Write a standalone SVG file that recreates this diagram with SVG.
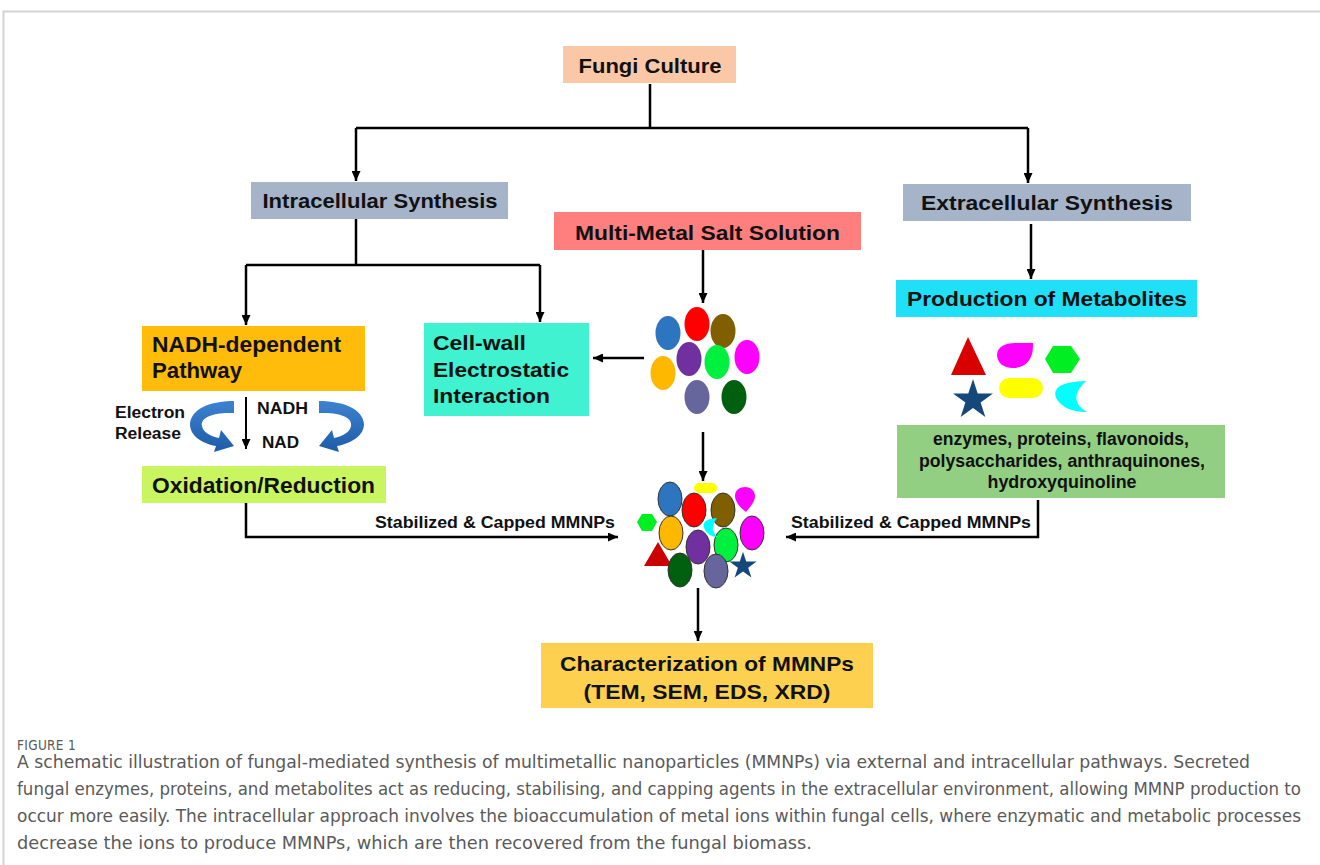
<svg xmlns="http://www.w3.org/2000/svg" width="1320" height="865" viewBox="0 0 1320 865">
<style>
.lbl{font-family:"Liberation Sans",Arial,sans-serif;font-weight:bold;fill:#111;}
.cap{font-family:"Liberation Sans Narrow","DejaVu Sans Condensed","Liberation Sans",Arial,sans-serif;fill:#5a5a5a;}
.ln{fill:none;stroke:#000;stroke-width:2.5;}
.ar{marker-end:url(#ah);}
.ol{stroke:#333;stroke-width:1;}
</style>
<defs>
<marker id="ah" markerUnits="userSpaceOnUse" markerWidth="10" markerHeight="9" refX="10" refY="4.5" orient="auto">
<path d="M0,0 L10,4.5 L0,9 z" fill="#000"/>
</marker>
<path id="star" d="M0,-21 L4.7,-6.47 L19.97,-6.49 L7.61,2.47 L12.34,16.99 L0,8 L-12.34,16.99 L-7.61,2.47 L-19.97,-6.49 L-4.7,-6.47 Z"/>
<linearGradient id="bl" x1="0" y1="0" x2="0" y2="1">
<stop offset="0" stop-color="#3d82d0"/>
<stop offset="1" stop-color="#1d5ca8"/>
</linearGradient>
</defs>

<!-- frame -->
<path d="M3.5,865 V11.5 H1320" fill="none" stroke="#d4d4d4" stroke-width="2"/>

<g id="connectors">
<path class="ln" d="M650,84 V128 M356,128 H1028"/>
<path class="ln ar" d="M356,128 V181"/>
<path class="ln ar" d="M1028,128 V183"/>
<path class="ln" d="M356,219 V265 M246,265 H540"/>
<path class="ln ar" d="M246,265 V325"/>
<path class="ln ar" d="M540,265 V322"/>
<path class="ln ar" d="M703,250 V303"/>
<path class="ln ar" d="M644,358 H593"/>
<path class="ln ar" d="M1031,224 V279"/>
<path class="ln ar" d="M246,397 V449" style="stroke-width:2"/>
<path class="ln ar" d="M703,432 V481"/>
<path class="ln ar" d="M246,503 V537 H618"/>
<path class="ln ar" d="M1038,500 V537 H786"/>
<path class="ln ar" d="M698,588 V641"/>
<text class="lbl" x="375" y="528" font-size="16.5" textLength="240" lengthAdjust="spacingAndGlyphs">Stabilized &amp; Capped MMNPs</text>
<text class="lbl" x="791" y="528" font-size="16.5" textLength="240" lengthAdjust="spacingAndGlyphs">Stabilized &amp; Capped MMNPs</text>
</g>

<g id="fungi-culture">
<rect x="563" y="46" width="173" height="37" fill="#fbc8a7"/>
<text class="lbl" x="650" y="73" font-size="21" text-anchor="middle" textLength="143" lengthAdjust="spacingAndGlyphs">Fungi Culture</text>
</g>

<g id="intracellular">
<rect x="251" y="182" width="257" height="37" fill="#a5b4c8"/>
<text class="lbl" x="380" y="208" font-size="21" text-anchor="middle" textLength="235" lengthAdjust="spacingAndGlyphs">Intracellular Synthesis</text>
</g>

<g id="multi-metal">
<rect x="554" y="212" width="307" height="38" fill="#ff7f7f"/>
<text class="lbl" x="707.5" y="240" font-size="21" text-anchor="middle" textLength="265" lengthAdjust="spacingAndGlyphs">Multi-Metal Salt Solution</text>
</g>

<g id="extracellular">
<rect x="903" y="184" width="288" height="37" fill="#a5b4c8"/>
<text class="lbl" x="1047" y="210" font-size="21" text-anchor="middle" textLength="252" lengthAdjust="spacingAndGlyphs">Extracellular Synthesis</text>
</g>

<g id="production">
<rect x="896" y="280" width="301" height="37" fill="#20e0f8"/>
<text class="lbl" x="1047" y="306" font-size="21" text-anchor="middle" textLength="280" lengthAdjust="spacingAndGlyphs">Production of Metabolites</text>
</g>

<g id="nadh-pathway">
<rect x="142" y="326" width="223" height="65" fill="#ffbc0a"/>
<text class="lbl" x="152" y="352" font-size="22" textLength="189" lengthAdjust="spacingAndGlyphs">NADH-dependent</text>
<text class="lbl" x="152" y="378" font-size="22" textLength="90" lengthAdjust="spacingAndGlyphs">Pathway</text>
</g>

<g id="electron-release">
<text class="lbl" x="115" y="418" font-size="16" textLength="70" lengthAdjust="spacingAndGlyphs">Electron</text>
<text class="lbl" x="115" y="439" font-size="16" textLength="66" lengthAdjust="spacingAndGlyphs">Release</text>
<text class="lbl" x="257" y="414" font-size="16" textLength="51" lengthAdjust="spacingAndGlyphs">NADH</text>
<text class="lbl" x="262" y="448" font-size="16" textLength="37" lengthAdjust="spacingAndGlyphs">NAD</text>
<g id="curl-left" fill="url(#bl)">
<path d="M234,401 L234,413 C212,412 200,418 202,426 C203,432 210,436 219,438 L221,430 L234,446 L214,452 L216,446 C200,443 190,435 190,424 C191,410 208,401 234,401 Z"/>
</g>
<g id="curl-right" fill="url(#bl)" transform="translate(553,0) scale(-1,1)">
<path d="M234,401 L234,413 C212,412 200,418 202,426 C203,432 210,436 219,438 L221,430 L234,446 L214,452 L216,446 C200,443 189,435 189,424 C190,410 208,401 234,401 Z"/>
</g>
</g>

<g id="oxidation">
<rect x="142" y="466" width="244" height="37" fill="#c8f560"/>
<text class="lbl" x="152" y="493" font-size="22" textLength="223" lengthAdjust="spacingAndGlyphs">Oxidation/Reduction</text>
</g>

<g id="cell-wall">
<rect x="424" y="323" width="165" height="93" fill="#40f2cf"/>
<text class="lbl" x="433" y="350" font-size="21" textLength="93" lengthAdjust="spacingAndGlyphs">Cell-wall</text>
<text class="lbl" x="433" y="377" font-size="21" textLength="136" lengthAdjust="spacingAndGlyphs">Electrostatic</text>
<text class="lbl" x="433" y="403" font-size="21" textLength="117" lengthAdjust="spacingAndGlyphs">Interaction</text>
</g>

<g id="metal-ions">
<ellipse cx="668" cy="333" rx="12.5" ry="17" fill="#2e75c0"/>
<ellipse cx="697" cy="324" rx="12.5" ry="17" fill="#ff0000"/>
<ellipse cx="723" cy="331" rx="12.5" ry="17" fill="#7f5f00"/>
<ellipse cx="689" cy="359" rx="12.5" ry="17" fill="#7030a0"/>
<ellipse cx="717" cy="362" rx="12.5" ry="17" fill="#00f040"/>
<ellipse cx="747" cy="357" rx="12.5" ry="17" fill="#ff00ff"/>
<ellipse cx="663" cy="373" rx="12.5" ry="17" fill="#ffb800"/>
<ellipse cx="697" cy="397" rx="12.5" ry="17" fill="#66669c"/>
<ellipse cx="734" cy="397" rx="12.5" ry="17" fill="#006010"/>
</g>

<g id="metabolite-shapes">
<polygon points="968,337 951,375 986,375" fill="#d90000"/>
<path d="M1033,343 C1034,360 1025,368 1013,368 C1003,368 997,362 997,355 C997,347 1005,343 1015,343 Z" fill="#ff00ff"/>
<polygon points="1045,359 1053,346 1071,346 1080,359 1071,373 1053,373" fill="#00ee22"/>
<use href="#star" transform="translate(973,400)" fill="#15487a"/>
<rect x="999" y="378" width="44" height="20" rx="10" fill="#ffff00"/>
<path d="M1086,381 Q1050,382 1056,398 Q1064,412 1087,412 Q1066,400 1086,381 Z" fill="#00ffff"/>
</g>

<g id="metabolites-list">
<rect x="897" y="425" width="328" height="73" fill="#93cf82"/>
<text class="lbl" x="1061" y="445" font-size="18" text-anchor="middle" textLength="256" lengthAdjust="spacingAndGlyphs">enzymes, proteins, flavonoids,</text>
<text class="lbl" x="1062" y="467" font-size="18" text-anchor="middle" textLength="286" lengthAdjust="spacingAndGlyphs">polysaccharides, anthraquinones,</text>
<text class="lbl" x="1062" y="488" font-size="18" text-anchor="middle" textLength="149" lengthAdjust="spacingAndGlyphs">hydroxyquinoline</text>
</g>

<g id="capped-mmnps">
<rect x="694" y="483" width="23" height="10" rx="5" fill="#ffff00"/>
<ellipse class="ol" cx="670" cy="499" rx="12" ry="17" fill="#2e75c0"/>
<ellipse class="ol" cx="694" cy="510" rx="12" ry="17" fill="#ff0000"/>
<ellipse class="ol" cx="723" cy="510" rx="12" ry="17" fill="#7f5f00"/>
<path d="M746,512 C738,506 735,500 735,496 C735,490 740,487 745,487 C751,487 755,491 755,496 C755,502 750,507 746,512 Z" fill="#ff00ff"/>
<polygon points="637,522 642,514 652,514 657,522 652,531 642,531" fill="#00ee22"/>
<ellipse class="ol" cx="671" cy="533" rx="12" ry="17" fill="#ffb800"/>
<ellipse class="ol" cx="752" cy="533" rx="12" ry="17" fill="#ff00ff"/>
<ellipse class="ol" cx="698" cy="547" rx="12" ry="17" fill="#7030a0"/>
<ellipse class="ol" cx="726" cy="545" rx="12" ry="17" fill="#00f040"/>
<path d="M717,518 Q701,519 704,528 Q708,537 718,537 Q708,530 717,518 Z" fill="#00ffff"/>
<polygon points="658,542 644,566 672,566" fill="#cc0000"/>
<ellipse class="ol" cx="680" cy="570" rx="12" ry="17" fill="#006010"/>
<ellipse class="ol" cx="716" cy="571" rx="12" ry="17" fill="#66669c"/>
<use href="#star" transform="translate(743,566) scale(0.68)" fill="#15487a"/>
</g>

<g id="characterization">
<rect x="541" y="643" width="332" height="65" fill="#fdd14f"/>
<text class="lbl" x="707" y="671" font-size="21" text-anchor="middle" textLength="294" lengthAdjust="spacingAndGlyphs">Characterization of MMNPs</text>
<text class="lbl" x="707" y="699" font-size="21" text-anchor="middle" textLength="247" lengthAdjust="spacingAndGlyphs">(TEM, SEM, EDS, XRD)</text>
</g>

<g id="caption">
<text class="cap" x="17" y="750" font-size="13.5" letter-spacing="0.3">FIGURE 1</text>
<text class="cap" x="17" y="768" font-size="17" textLength="1233" lengthAdjust="spacingAndGlyphs">A schematic illustration of fungal-mediated synthesis of multimetallic nanoparticles (MMNPs) via external and intracellular pathways. Secreted</text>
<text class="cap" x="17" y="795" font-size="17" textLength="1284" lengthAdjust="spacingAndGlyphs">fungal enzymes, proteins, and metabolites act as reducing, stabilising, and capping agents in the extracellular environment, allowing MMNP production to</text>
<text class="cap" x="17" y="822" font-size="17" textLength="1284" lengthAdjust="spacingAndGlyphs">occur more easily. The intracellular approach involves the bioaccumulation of metal ions within fungal cells, where enzymatic and metabolic processes</text>
<text class="cap" x="17" y="849" font-size="17" textLength="795" lengthAdjust="spacingAndGlyphs">decrease the ions to produce MMNPs, which are then recovered from the fungal biomass.</text>
</g>
</svg>
